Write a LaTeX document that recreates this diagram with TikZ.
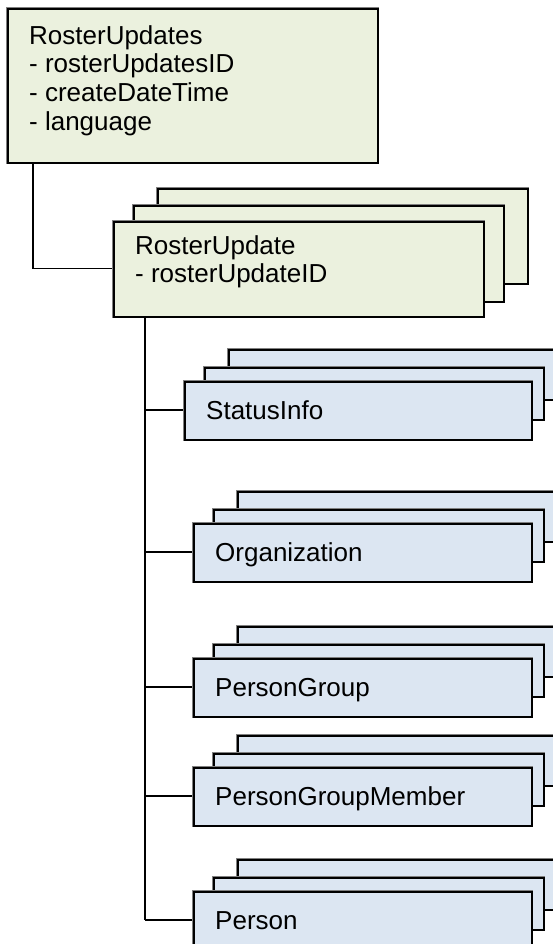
\documentclass[tikz,border=0pt]{standalone}
\usepackage{fontspec}
\setmainfont{Liberation Sans}
\definecolor{grfill}{HTML}{EBF1DE}
\definecolor{blfill}{HTML}{DCE6F2}
\usetikzlibrary{calc}
\newcommand\bluestack[4]{% #1 name, #2 left, #3 top of front box, #4 text
  \pgfmathsetmacro\bL{#2}\pgfmathsetmacro\bT{#3}%
  \pgfmathsetmacro\wC{560-\bL-44}\pgfmathsetmacro\wB{543-\bL-20}\pgfmathsetmacro\wA{531-\bL}%
  \node[bbox, minimum width=\wC pt, minimum height=50pt] (#1-c) at (\bL+44,\bT-32) {};
  \node[bbox, minimum width=\wB pt, minimum height=52pt] (#1-b) at (\bL+20,\bT-14) {};
  \node[bbox, minimum width=\wA pt, minimum height=58pt] (#1-a) at (\bL,\bT) {};
  \node[lbl] (#1-t) at (\bL+22,\bT+38.3) {#4};
}
\begin{document}
\begin{tikzpicture}[x=1pt,y=-1pt,
  box/.style={draw=black, line width=1.6pt, preaction={draw=black!50, line width=2.8pt},
    rectangle, inner sep=0pt, anchor=north west},
  gbox/.style={box, fill=grfill, minimum width=370pt},
  bbox/.style={box, fill=blfill},
  lbl/.style={anchor=base west, inner sep=0pt, font=\fontsize{26}{28.7}\selectfont},
  mlbl/.style={anchor=north west, inner sep=0pt, align=left, font=\fontsize{26}{28.7}\selectfont},
  conn/.style={draw=black, line width=1.5pt}]
\useasboundingbox (0,0) rectangle (552,944);

% connectors (drawn first, boxes cover their ends)
\coordinate (rootdrop) at (33,162);
\coordinate (trunk) at (145,316);
\coordinate (jS) at (145,410);
\coordinate (jO) at (145,552);
\coordinate (jG) at (145,687);
\coordinate (jM) at (145,796);
\coordinate (jP) at (145,920);
\draw[conn] (rootdrop) |- (113,268.5) coordinate (ruin);
\draw[conn] (trunk) -- (jP);
\draw[conn] (jS) -- (184,410) coordinate (sIn);
\draw[conn] (jO) -- (193,552) coordinate (oIn);
\draw[conn] (jG) -- (193,687) coordinate (gIn);
\draw[conn] (jM) -- (193,796) coordinate (mIn);
\draw[conn] (jP) -- (193,920) coordinate (pIn);

% root box
\node[gbox, minimum height=154pt] (root) at (7,8) {};
\node[mlbl] (root-t) at (29,25) {RosterUpdates\\- rosterUpdatesID\\- createDateTime\\- language};

% RosterUpdate stack
\node[gbox, minimum height=95pt] (ru-c) at (157,188) {};
\node[gbox, minimum height=96pt] (ru-b) at (133,205) {};
\node[gbox, minimum height=95pt] (ru-a) at (113,221) {};
\node[mlbl] (ru-t) at (135,235) {RosterUpdate\\- rosterUpdateID};

% child stacks
\bluestack{si}{184}{381}{StatusInfo}
\bluestack{org}{193}{523}{Organization}
\bluestack{pg}{193}{658}{PersonGroup}
\bluestack{pgm}{193}{767}{PersonGroupMember}
\bluestack{per}{193}{891}{Person}
\end{tikzpicture}
\end{document}
